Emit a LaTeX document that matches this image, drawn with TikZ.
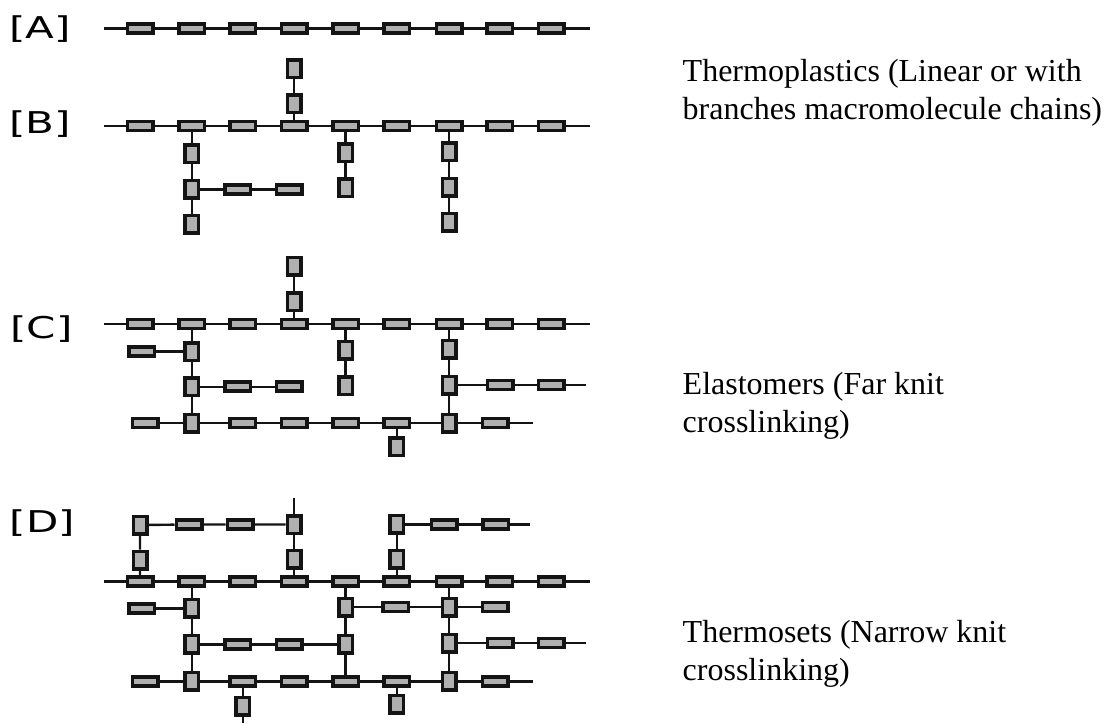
\documentclass[tikz,border=0pt]{standalone}
\usepackage{fontspec}
\usepackage{graphicx}
\newfontfamily\labelfont{DejaVu Sans}
\newfontfamily\capfont{Liberation Serif}
\definecolor{boxline}{HTML}{141414}
\definecolor{boxfill}{HTML}{B0B0B0}
\tikzset{
  hbox/.style={rectangle, draw=boxline, fill=boxfill, line width=3.5pt, minimum width=25.5pt, minimum height=9pt, inner sep=0pt},
  vbox/.style={rectangle, draw=boxline, fill=boxfill, line width=3.5pt, minimum width=13.5pt, minimum height=17.5pt, inner sep=0pt},
  bond/.style={draw=boxline, line width=2.4pt},
  panel/.style={inner sep=0pt, font=\labelfont\fontsize{30}{36}\selectfont},
  caption/.style={inner sep=0pt, anchor=base west, font=\capfont\fontsize{32}{38}\selectfont}
}
\begin{document}
\begin{tikzpicture}[x=1pt,y=-1pt]
\useasboundingbox (0,0) rectangle (1110,723);
% ---------- labels ----------
\node[panel] (lA) at (40,29) {\scalebox{1.4}[1]{[A]}};
\node[panel] (lB) at (40,124) {\scalebox{1.4}[1]{[B]}};
\node[panel] (lC) at (41.5,329) {\scalebox{1.4}[1]{[C]}};
\node[panel] (lD) at (42.5,523) {\scalebox{1.4}[1]{[D]}};
\node[caption] (t1a) at (682.5,81) {Thermoplastics (Linear or with};
\node[caption] (t1b) at (682.5,119) {branches macromolecule chains)};
\node[caption] (t2a) at (682.5,394) {Elastomers (Far knit};
\node[caption] (t2b) at (682.5,432) {crosslinking)};
\node[caption] (t3a) at (682.5,642) {Thermosets (Narrow knit};
\node[caption] (t3b) at (682.5,680) {crosslinking)};
% ---------- main chains ----------
\foreach \p/\y in {a/28.3, b/126, c/324, d/581.3}{
  \foreach \i/\x in {1/140, 2/191.7, 3/242.7, 4/294, 5/345.5, 6/396.7, 7/449, 8/499.5, 9/551}{
    \node[hbox] (\p\i) at (\x,\y) {};
  }
  \coordinate (\p L) at (104,\y);
  \coordinate (\p R) at (590,\y);
  \draw[bond] (\p L) -- (\p 1) -- (\p 2) -- (\p 3) -- (\p 4) -- (\p 5) -- (\p 6) -- (\p 7) -- (\p 8) -- (\p 9) -- (\p R);
}
% ---------- B ----------
\node[vbox] (bu1) at (294,103.7) {};
\node[vbox] (bu2) at (294,68.5) {};
\node[vbox] (bd1) at (191.7,153.7) {};
\node[vbox] (bd2) at (191.7,189.3) {};
\node[vbox] (bd3) at (191.7,224) {};
\node[hbox] (bh1) at (237.7,189.3) {};
\node[hbox] (bh2) at (289,189.3) {};
\node[vbox] (be1) at (345.5,152.7) {};
\node[vbox] (be2) at (345.5,187.7) {};
\node[vbox] (bg1) at (449,151.7) {};
\node[vbox] (bg2) at (449,187) {};
\node[vbox] (bg3) at (449,222.3) {};
\draw[bond] (b4) -- (bu1) -- (bu2);
\draw[bond] (b2) -- (bd1) -- (bd2) -- (bd3);
\draw[bond] (bd2) -- (bh1) -- (bh2);
\draw[bond] (b5) -- (be1) -- (be2);
\draw[bond] (b7) -- (bg1) -- (bg2) -- (bg3);
% ---------- C ----------
\node[vbox] (cu1) at (294,301.7) {};
\node[vbox] (cu2) at (294,266) {};
\node[vbox] (cd1) at (191.7,351.5) {};
\node[vbox] (cd2) at (191.7,386.7) {};
\node[vbox] (cd3) at (191.7,423) {};
\node[hbox] (cs) at (141.7,351.5) {};
\node[hbox] (ch1) at (237.7,386.7) {};
\node[hbox] (ch2) at (289,386.7) {};
\node[vbox] (ce1) at (345.5,350) {};
\node[vbox] (ce2) at (345.5,385.7) {};
\node[vbox] (cg1) at (449,349.3) {};
\node[vbox] (cg2) at (449,385) {};
\node[vbox] (cg3) at (449,423) {};
\node[hbox] (cr1) at (500,385) {};
\node[hbox] (cr2) at (551,385) {};
\coordinate (crR) at (586,385);
\node[hbox] (cb1) at (145,423) {};
\node[hbox] (cb3) at (242.7,423) {};
\node[hbox] (cb4) at (294,423) {};
\node[hbox] (cb5) at (345.5,423) {};
\node[hbox] (cb6) at (396.7,423) {};
\node[hbox] (cb8) at (495,423) {};
\coordinate (cbR) at (532.7,423);
\node[vbox] (cp) at (396.7,446.7) {};
\draw[bond] (c4) -- (cu1) -- (cu2);
\draw[bond] (c2) -- (cd1) -- (cd2) -- (cd3);
\draw[bond] (cs) -- (cd1);
\draw[bond] (cd2) -- (ch1) -- (ch2);
\draw[bond] (c5) -- (ce1) -- (ce2);
\draw[bond] (c7) -- (cg1) -- (cg2) -- (cg3);
\draw[bond] (cg2) -- (cr1) -- (cr2) -- (crR);
\draw[bond] (cb1) -- (cd3) -- (cb3) -- (cb4) -- (cb5) -- (cb6) -- (cg3) -- (cb8) -- (cbR);
\draw[bond] (cb6) -- (cp);
% ---------- D ----------
\node[vbox] (du1) at (140,560) {};
\node[vbox] (du2) at (140,525) {};
\node[hbox] (dt1) at (189,524.5) {};
\node[hbox] (dt2) at (240,524.5) {};
\node[vbox] (dv1) at (294,524.5) {};
\node[vbox] (dv2) at (294,559.3) {};
\coordinate (dvT) at (294,498.3);
\node[vbox] (dw1) at (396.7,559) {};
\node[vbox] (dw2) at (396.7,524.3) {};
\node[hbox] (dq1) at (444.3,524.3) {};
\node[hbox] (dq2) at (495.7,524.3) {};
\coordinate (dqR) at (530,524.3);
\node[vbox] (dd1) at (191.7,608.3) {};
\node[vbox] (dd2) at (191.7,644.3) {};
\node[vbox] (dd3) at (191.7,681.3) {};
\node[hbox] (ds) at (141.7,608.3) {};
\node[hbox] (dh1) at (237.7,644.3) {};
\node[hbox] (dh2) at (289,644.3) {};
\node[vbox] (de1) at (345.5,607) {};
\node[vbox] (de2) at (345.5,644.3) {};
\node[hbox] (dm1) at (395.7,607) {};
\node[hbox] (dm2) at (495,607) {};
\node[vbox] (dg1) at (449,607) {};
\node[vbox] (dg2) at (449,643) {};
\node[vbox] (dg3) at (449,681.3) {};
\node[hbox] (dr1) at (500,643) {};
\node[hbox] (dr2) at (551,643) {};
\coordinate (drR) at (586,643);
\node[hbox] (db1) at (145,681.3) {};
\node[hbox] (db3) at (242.7,681.3) {};
\node[hbox] (db4) at (294,681.3) {};
\node[hbox] (db5) at (345.5,681.3) {};
\node[hbox] (db6) at (396.7,681.3) {};
\node[hbox] (db8) at (495,681.3) {};
\coordinate (dbR) at (532.7,681.3);
\node[vbox] (dp1) at (242.7,706) {};
\coordinate (dpB) at (242.7,723);
\node[vbox] (dp2) at (396.7,704) {};
\draw[bond] (d1) -- (du1) -- (du2) -- (dt1) -- (dt2) -- (dv1);
\draw[bond] (dvT) -- (dv1) -- (dv2) -- (d4);
\draw[bond] (d6) -- (dw1) -- (dw2) -- (dq1) -- (dq2) -- (dqR);
\draw[bond] (d2) -- (dd1) -- (dd2) -- (dd3);
\draw[bond] (ds) -- (dd1);
\draw[bond] (dd2) -- (dh1) -- (dh2) -- (de2);
\draw[bond] (d5) -- (de1) -- (de2) -- (db5);
\draw[bond] (de1) -- (dm1) -- (dg1) -- (dm2);
\draw[bond] (d7) -- (dg1) -- (dg2) -- (dg3);
\draw[bond] (dg2) -- (dr1) -- (dr2) -- (drR);
\draw[bond] (db1) -- (dd3) -- (db3) -- (db4) -- (db5) -- (db6) -- (dg3) -- (db8) -- (dbR);
\draw[bond] (db3) -- (dp1) -- (dpB);
\draw[bond] (db6) -- (dp2);
\end{tikzpicture}
\end{document}
